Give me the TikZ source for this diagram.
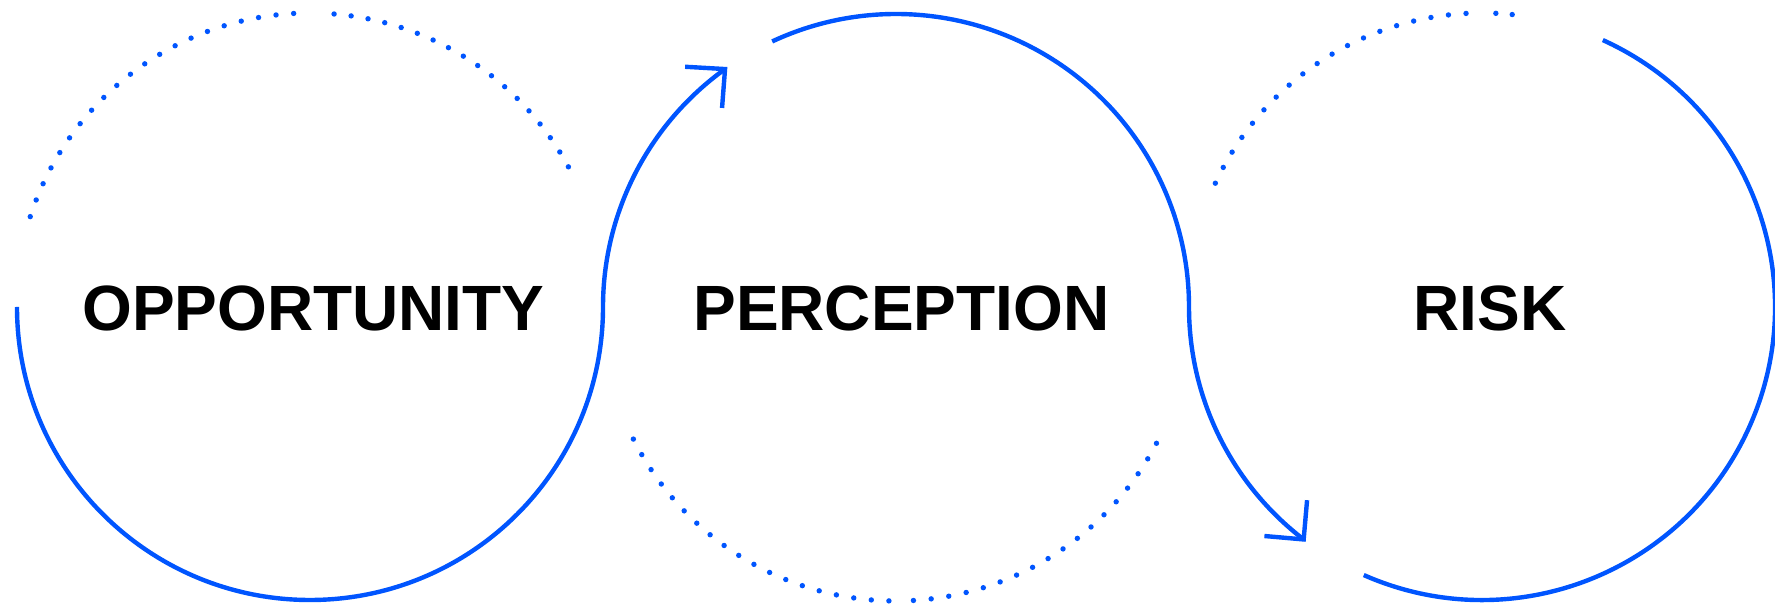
\documentclass[tikz,border=0pt]{standalone}
\usepackage{fontspec}
\setsansfont{Liberation Sans}
\usepackage{tikz}
\definecolor{ringblue}{RGB}{0,85,255}
\tikzset{
  ringline/.style={line width=4.4pt,ringblue},
  barbline/.style={line width=4.4pt,ringblue,line join=miter},
  dotline/.style={line width=5.4pt,ringblue,line cap=round,
    dash pattern=on 0pt off #1},
  dotline/.default=17.4pt,
  wordnode/.style={anchor=base,inner sep=0pt,
    font=\fontsize{64}{64}\selectfont\sffamily\bfseries}
}

\begin{document}
\begin{tikzpicture}[x=1pt,y=1pt]
  \useasboundingbox (0,0) rectangle (1775,604);
  \coordinate (c1) at (310,297);
  \coordinate (c2) at (896,297);
  \coordinate (c3) at (1482,297);

  % solid rings
  \draw[ringline] (c1) ++(180:293)
    arc[start angle=180,end angle=360,radius=293pt]
    arc[start angle=180,end angle=125.7,radius=293pt] coordinate (tip1);
  \draw[barbline] (tip1) ++(176.7:40) -- (tip1) -- ++(265.6:39);
  \draw[ringline] (c2) ++(115:293)
    arc[start angle=115,end angle=0,radius=293pt]
    arc[start angle=180,end angle=232.5,radius=293pt] coordinate (tip2);
  \draw[barbline] (tip2) ++(85:39.4) -- (tip2) -- ++(175:39.4);
  \draw[ringline] (c3) ++(246.2:293)
    arc[start angle=246.2,end angle=425.65,radius=293pt];

  % dotted rings
  \draw[dotline=17.68pt] (c1) ++(162.1:294) arc[start angle=162.1,end angle=93.0,radius=294pt];
  \draw[dotline=17.15pt] (c1) ++(85.3:294) arc[start angle=85.3,end angle=28.3,radius=294pt];
  \draw[dotline=17.65pt] (c2) ++(206.7:294) arc[start angle=206.7,end angle=268.8,radius=294pt];
  \draw[dotline=17.8pt] (c2) ++(273.4:294) arc[start angle=273.4,end angle=332.6,radius=294pt];
  \draw[dotline=17.67pt] (c3) ++(155.1:294) arc[start angle=155.1,end angle=92.9,radius=294pt];
  \draw[dotline=16.4pt] (c3) ++(87.3:294) arc[start angle=87.3,end angle=84.0,radius=294pt];

  \node[wordnode] (opp) at (313.4,273.7) {OPPORTUNITY};
  \node[wordnode] (per) at (901.4,273.7) {PERCEPTION};
  \node[wordnode] (risk) at (1490,273.7) {RISK};
\end{tikzpicture}
\end{document}
